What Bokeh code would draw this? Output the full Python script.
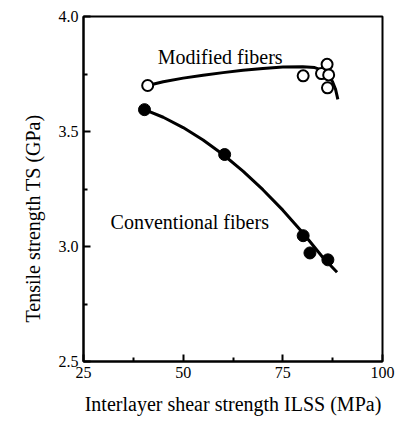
import math
from bokeh.plotting import figure
from bokeh.models import Range1d, FixedTicker, CustomJSTickFormatter, Title
from bokeh.core.properties import value
from bokeh.embed import file_html
from bokeh.resources import INLINE

# --- data ---
mod_x = [41.1, 80.1, 84.7, 86.1, 86.5, 86.2]
mod_y = [3.700, 3.742, 3.752, 3.792, 3.746, 3.690]
conv_x = [40.3, 60.4, 80.1, 81.8, 86.3]
conv_y = [3.595, 3.400, 3.047, 2.972, 2.942]

mod_curve_x = [41.1, 45, 50, 55, 60, 65, 70, 75, 80, 83, 85, 86.5, 87.5, 88.2, 88.8]
mod_curve_y = [3.700, 3.716, 3.732, 3.745, 3.756, 3.766, 3.774, 3.780, 3.782, 3.778, 3.766, 3.745, 3.715, 3.685, 3.640]
conv_curve_x = [40.3, 45, 50, 55, 60, 65, 70, 75, 80, 85, 88.6]
conv_curve_y = [3.595, 3.562, 3.517, 3.463, 3.400, 3.328, 3.247, 3.158, 3.060, 2.953, 2.888]

x_ticks = [25, 50, 75, 100]
y_ticks = [2.5, 3.0, 3.5, 4.0]
x_minor = [37.5, 62.5, 87.5]
y_minor = [2.75, 3.25, 3.75]
x_title = "Interlayer shear strength ILSS (MPa)"
y_title = "Tensile strength TS (GPa)"
label_text = ["Modified fibers", "Conventional fibers"]
label_x = [43.6, 31.8]
label_y = [3.823, 3.106]

FONT = "Liberation Serif"

p = figure(width=397, height=421, output_backend="svg", toolbar_location=None,
           x_range=Range1d(25, 100), y_range=Range1d(2.5, 4.0),
           min_border_left=83, min_border_right=15, min_border_top=16, min_border_bottom=60)
p.grid.visible = False
p.background_fill_color = "white"
p.border_fill_color = "white"
p.outline_line_color = "black"
p.outline_line_width = 2

xax = p.xaxis[0]
yax = p.yaxis[0]
for ax in (xax, yax):
    ax.axis_line_width = 2
    ax.major_tick_line_width = 2
    ax.minor_tick_line_width = 2
    ax.major_tick_in = 7
    ax.major_tick_out = 0
    ax.minor_tick_in = 4
    ax.minor_tick_out = 0
    ax.major_label_text_font = FONT
    ax.major_label_text_font_size = "16px"
    ax.major_label_text_color = "black"
    ax.axis_label_text_font = FONT
    ax.axis_label_text_font_size = "20px"
    ax.axis_label_text_font_style = "normal"
    ax.axis_label_text_color = "black"
    ax.major_label_standoff = 5

xax.ticker = FixedTicker(ticks=x_ticks, minor_ticks=x_minor)
yax.ticker = FixedTicker(ticks=y_ticks, minor_ticks=y_minor)
yax.formatter = CustomJSTickFormatter(code="return tick.toFixed(1);")
xax.axis_label = x_title
xax.axis_label_standoff = 12

p.line(mod_curve_x, mod_curve_y, line_color="black", line_width=3)
p.line(conv_curve_x, conv_curve_y, line_color="black", line_width=3)

p.scatter(mod_x, mod_y, marker="circle", size=11, fill_color="white",
          line_color="black", line_width=2)
p.scatter(conv_x, conv_y, marker="circle", size=12, fill_color="black",
          line_color="black")

p.text(label_x, label_y, text=label_text, text_font=value(FONT),
       text_font_size="20px", text_color="black",
       text_baseline="alphabetic", text_align="left")

# y title shifted down along the axis as in the original
p.add_layout(Title(text=y_title, align="left", offset=39, standoff=24,
                   text_font=FONT, text_font_size="20px", text_font_style="normal",
                   text_color="black"), "left")

open("out.html", "w").write(file_html(p, INLINE))
